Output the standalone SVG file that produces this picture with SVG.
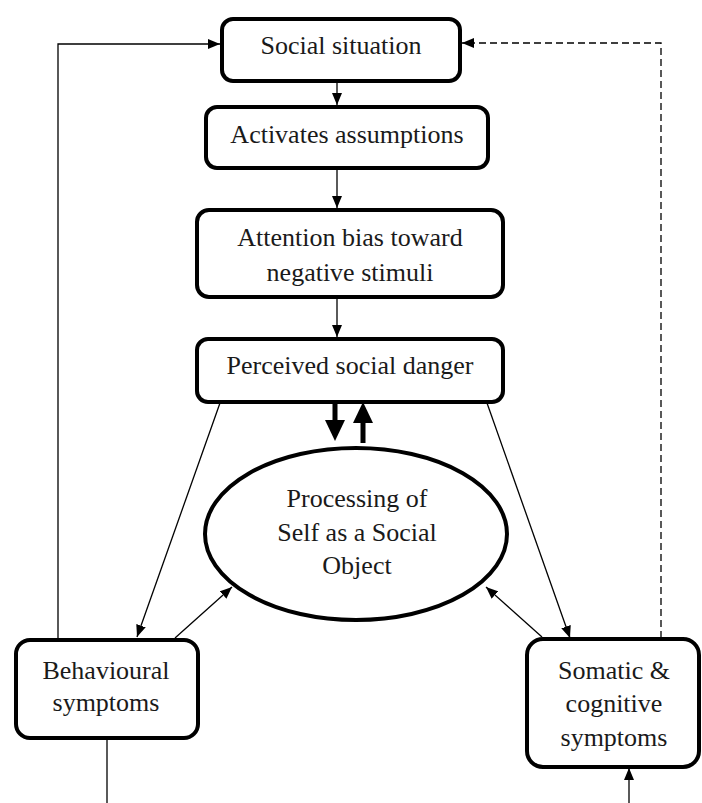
<svg xmlns="http://www.w3.org/2000/svg" width="702" height="803" viewBox="0 0 702 803">
<defs>
<style>
.box{fill:#fff;stroke:#000;stroke-width:4}
.t{font-family:"Liberation Serif","Times New Roman",serif;font-size:26px;fill:#1a1a1a;text-anchor:middle}
.c{fill:none;stroke:#000;stroke-width:1.3}
.d{fill:none;stroke:#000;stroke-width:1.3;stroke-dasharray:7 4}
</style>
<marker id="ah" viewBox="0 0 12 10" refX="12" refY="5" markerWidth="12" markerHeight="10" markerUnits="userSpaceOnUse" orient="auto">
<path d="M0,0 L12,5 L0,10 z" fill="#000"/>
</marker>
</defs>
<rect width="702" height="803" fill="#fff"/>
<g id="connectors">
<polyline class="c" points="58,639 58,44 220,44" marker-end="url(#ah)"/>
<polyline class="d" points="661,638 661,43 462,43" marker-end="url(#ah)"/>
<line class="c" x1="337" y1="81" x2="337" y2="105" marker-end="url(#ah)"/>
<line class="c" x1="337" y1="168" x2="337" y2="208" marker-end="url(#ah)"/>
<line class="c" x1="337" y1="297" x2="337" y2="337" marker-end="url(#ah)"/>
<line class="c" x1="220" y1="403" x2="137" y2="637" marker-end="url(#ah)"/>
<line class="c" x1="487" y1="403" x2="570" y2="638" marker-end="url(#ah)"/>
<line class="c" x1="175" y1="638" x2="232" y2="587" marker-end="url(#ah)"/>
<line class="c" x1="542" y1="637" x2="486" y2="587" marker-end="url(#ah)"/>
<line class="c" x1="107" y1="738" x2="107" y2="803"/>
<line class="c" x1="629" y1="803" x2="629" y2="768" marker-end="url(#ah)"/>
<rect x="332.5" y="402" width="5" height="20" fill="#000"/>
<polygon points="325,420 345,420 335,441" fill="#000"/>
<rect x="360.5" y="421" width="5" height="22" fill="#000"/>
<polygon points="353,423 373,423 363,402" fill="#000"/>
</g>
<g id="social-situation">
<rect class="box" x="222" y="19" width="238" height="62" rx="11"/>
<text class="t" x="341" y="54">Social situation</text>
</g>
<g id="activates-assumptions">
<rect class="box" x="206" y="107" width="282" height="61" rx="11"/>
<text class="t" x="347" y="143">Activates assumptions</text>
</g>
<g id="attention-bias">
<rect class="box" x="197" y="210" width="306" height="87" rx="12"/>
<text class="t" x="350" y="246">Attention bias toward</text>
<text class="t" x="350" y="281">negative stimuli</text>
</g>
<g id="perceived-danger">
<rect class="box" x="197" y="339" width="306" height="63" rx="11"/>
<text class="t" x="350" y="374">Perceived social danger</text>
</g>
<g id="processing-self">
<ellipse class="box" cx="356" cy="534" rx="151" ry="86"/>
<text class="t" x="357" y="507">Processing of</text>
<text class="t" x="357" y="541">Self as a Social</text>
<text class="t" x="357" y="574">Object</text>
</g>
<g id="behavioural">
<rect class="box" x="16" y="640" width="182" height="98" rx="14"/>
<text class="t" x="106" y="679">Behavioural</text>
<text class="t" x="106" y="711">symptoms</text>
</g>
<g id="somatic">
<rect class="box" x="527" y="639" width="172" height="128" rx="16"/>
<text class="t" x="614" y="679">Somatic &amp;</text>
<text class="t" x="614" y="712">cognitive</text>
<text class="t" x="614" y="746">symptoms</text>
</g>
</svg>
